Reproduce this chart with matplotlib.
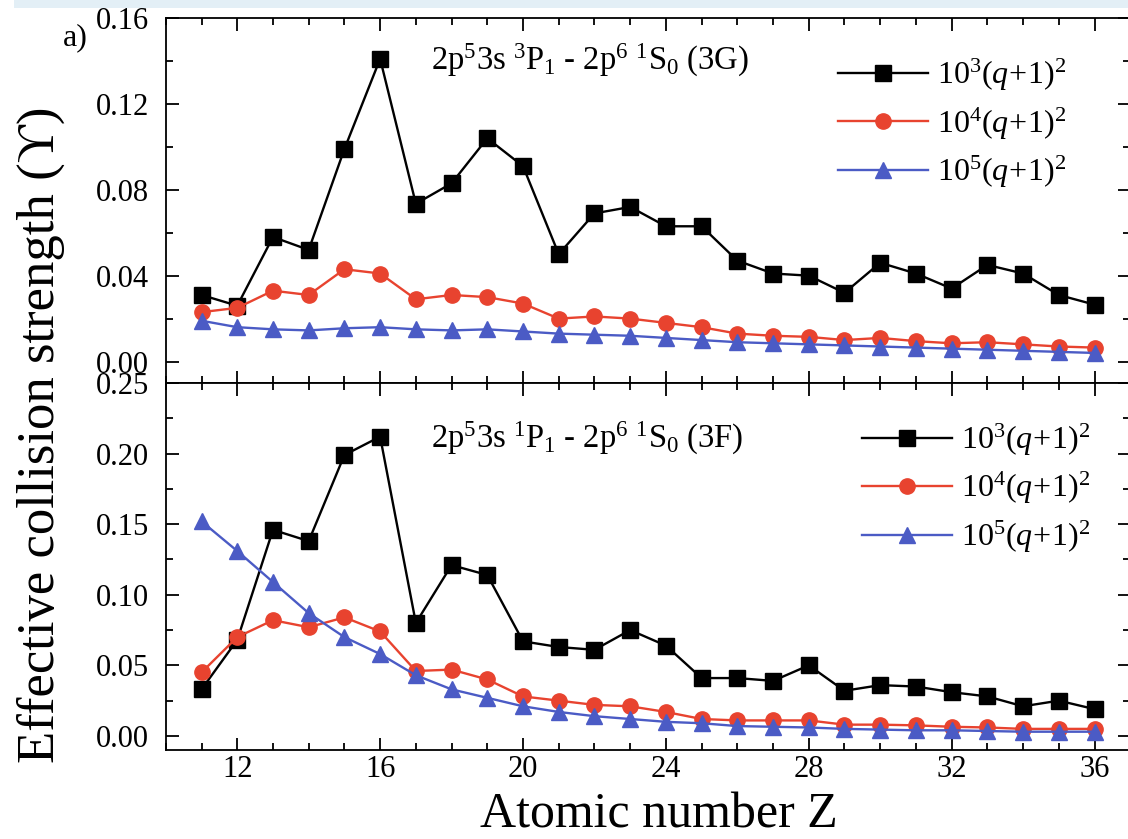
import matplotlib

matplotlib.use("Agg")
import matplotlib.pyplot as plt
from matplotlib.patches import Rectangle
from matplotlib.ticker import MultipleLocator

plt.rcParams.update({
    "font.family": ["Liberation Serif", "DejaVu Serif"],
    "mathtext.fontset": "custom",
    "mathtext.rm": "Liberation Serif",
    "mathtext.it": "Liberation Serif:italic",
    "mathtext.bf": "Liberation Serif:bold",
})

Z = list(range(11, 37))

# 2p5 3s 3P1 - 2p6 1S0 (3G)
g_1e3 = [0.031, 0.026, 0.058, 0.052, 0.099, 0.141, 0.0735, 0.083, 0.104, 0.091,
         0.050, 0.069, 0.072, 0.063, 0.063, 0.047, 0.041, 0.040, 0.032, 0.046,
         0.041, 0.034, 0.045, 0.041, 0.031, 0.0265]
g_1e4 = [0.023, 0.025, 0.033, 0.031, 0.043, 0.041, 0.029, 0.031, 0.030, 0.027,
         0.020, 0.021, 0.020, 0.018, 0.016, 0.013, 0.012, 0.0115, 0.010, 0.011,
         0.0095, 0.0085, 0.009, 0.008, 0.007, 0.0065]
g_1e5 = [0.019, 0.016, 0.015, 0.0145, 0.0155, 0.016, 0.015, 0.0145, 0.015, 0.014,
         0.013, 0.0125, 0.012, 0.011, 0.010, 0.009, 0.0085, 0.008, 0.0075, 0.007,
         0.0065, 0.006, 0.0055, 0.005, 0.0045, 0.004]

# 2p5 3s 1P1 - 2p6 1S0 (3F)
f_1e3 = [0.033, 0.068, 0.146, 0.138, 0.199, 0.212, 0.080, 0.121, 0.114, 0.067,
         0.063, 0.061, 0.075, 0.064, 0.041, 0.041, 0.039, 0.050, 0.032, 0.036,
         0.035, 0.031, 0.028, 0.021, 0.025, 0.019]
f_1e4 = [0.045, 0.070, 0.082, 0.077, 0.084, 0.074, 0.046, 0.047, 0.040, 0.028,
         0.025, 0.022, 0.021, 0.017, 0.012, 0.011, 0.011, 0.011, 0.008, 0.008,
         0.0075, 0.0065, 0.006, 0.005, 0.005, 0.005]
f_1e5 = [0.152, 0.131, 0.109, 0.087, 0.070, 0.058, 0.043, 0.033, 0.027, 0.021,
         0.017, 0.014, 0.012, 0.010, 0.009, 0.007, 0.0065, 0.006, 0.005, 0.0045,
         0.004, 0.004, 0.0035, 0.003, 0.003, 0.003]

labels = [r"$10^{3}(q\!+\!1)^{2}$", r"$10^{4}(q\!+\!1)^{2}$", r"$10^{5}(q\!+\!1)^{2}$"]
styles = [("black", "s"), ("#e8432f", "o"), ("#4b5bc5", "^")]

g_ticks = [0.0, 0.04, 0.08, 0.12, 0.16]
f_ticks = [0.0, 0.05, 0.10, 0.15, 0.20, 0.25]

fig = plt.figure(figsize=(11.28, 8.39), dpi=100)
ax1 = fig.add_axes([0.147, 0.5435, 0.855, 0.435])
ax2 = fig.add_axes([0.147, 0.106, 0.855, 0.4375], sharex=ax1)


def draw(ax, series, title, title_y, ylim, yticks, minor, leg_anchor):
    for ys, (c, m), lab in zip(series, styles, labels):
        ax.plot(Z, ys, color=c, marker=m, markersize=11, mec=c, mfc=c,
                lw=1.7, label=lab)
    ax.set_xlim(10, 37)
    ax.set_ylim(*ylim)
    ax.xaxis.set_major_locator(MultipleLocator(4))
    ax.xaxis.set_minor_locator(MultipleLocator(1))
    ax.set_yticks(yticks)
    ax.set_yticklabels([f"{t:.2f}" for t in yticks])
    ax.yaxis.set_minor_locator(MultipleLocator(minor))
    ax.tick_params(which="both", direction="in", top=True, right=True,
                   labelsize=22, width=1.3)
    ax.tick_params(which="major", length=9)
    ax.tick_params(which="minor", length=5)
    ax.tick_params(axis="y", pad=12)
    for s in ax.spines.values():
        s.set_linewidth(1.3)
    ax.text(0.275, title_y, title, transform=ax.transAxes, fontsize=23.5,
            va="center")
    ax.legend(loc="upper left", bbox_to_anchor=leg_anchor, frameon=False,
              fontsize=23, handlelength=2.8, labelspacing=0.38,
              handletextpad=0.3, borderaxespad=0)


draw(ax1, [g_1e3, g_1e4, g_1e5],
     r"$\mathrm{2p^{5}3s\ {}^{3}P_{1}\ \text{-}\ 2p^{6}\ {}^{1}S_{0}\ (3G)}$", 0.885,
     (-0.01, 0.16), g_ticks, 0.02, (0.684, 0.928))
draw(ax2, [f_1e3, f_1e4, f_1e5],
     r"$\mathrm{2p^{5}3s\ {}^{1}P_{1}\ \text{-}\ 2p^{6}\ {}^{1}S_{0}\ (3F)}$", 0.85,
     (-0.01, 0.25), f_ticks, 0.025, (0.709, 0.929))
ax1.tick_params(labelbottom=False)

fig.text(0.036, 0.4815, "Effective collision strength (\u03d2)", rotation=90,
         ha="center", va="center", fontsize=38)
fig.text(0.584, 0.028, "Atomic number Z", ha="center", va="center", fontsize=36)
fig.text(0.067, 0.955, "a)", ha="center", va="center", fontsize=23)

# light band across the top of the image
fig.patches.append(Rectangle((0.0125, 0.99), 1.0, 0.02, transform=fig.transFigure,
                             facecolor="#e3eff6", edgecolor="none", zorder=10))

fig.savefig("out.png", dpi=100)
